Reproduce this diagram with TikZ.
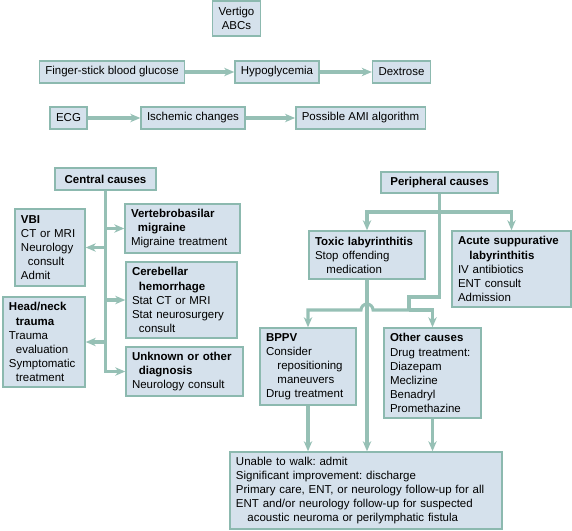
\documentclass[tikz,border=0pt]{standalone}
\usepackage{fontspec}
\setmainfont{Liberation Sans}
\usetikzlibrary{arrows.meta}
\definecolor{boxfill}{RGB}{213,225,236}
\definecolor{boxline}{RGB}{140,185,175}
\definecolor{flow}{RGB}{150,192,181}
\frenchspacing

\begin{document}
\begin{tikzpicture}[
  x=0.03cm, y=-0.03cm,
  font=\fontsize{9.8}{12}\selectfont,
  box/.style={draw=boxline, fill=boxfill, line width=1.2pt, inner xsep=0.18cm, align=left},
  single/.style={box, align=center, minimum height=0.66cm},
  line/.style={draw=flow, line width=2.6pt},
  arrow/.style={line, -{Stealth[length=0.3cm, width=0.25cm, inset=0.09cm]}}
]
\useasboundingbox (0,0) rectangle (572,530);

% first checks
\node[single, minimum width=1.41cm, minimum height=1.05cm] (vertigo) at (236.5,18.5) {Vertigo\\ABCs};
\node[single, minimum width=4.2cm] (glucose) at (112,72) {Finger-stick blood glucose};
\node[single, minimum width=2.46cm] (hypo) at (277,72) {Hypoglycemia};
\node[single, minimum width=1.71cm] (dextrose) at (401.5,72) {Dextrose};
\node[single, minimum width=1.05cm] (ecg) at (68.5,118) {ECG};
\node[single, minimum width=3.0cm] (ischemic) at (193,118) {Ischemic changes};
\node[single, minimum width=3.75cm] (ami) at (360.5,118) {Possible AMI algorithm};

% central side
\node[single, minimum width=3.03cm] (central) at (105.5,179) {\textbf{Central causes}};
\node[box, text width=1.74cm, minimum height=2.31cm] (vbi) at (50,247.5)
  {\textbf{VBI}\\CT or MRI\\Neurology\\\hspace*{0.6em}consult\\Admit};
\node[box, text width=3.09cm, minimum height=1.47cm] (migraine) at (182.5,228.5)
  {\textbf{Vertebrobasilar}\\\hspace*{0.6em}\textbf{migraine}\\Migraine treatment};
\node[box, text width=2.97cm, minimum height=2.28cm] (hemorrhage) at (181.5,300)
  {\textbf{Cerebellar}\\\hspace*{0.6em}\textbf{hemorrhage}\\Stat CT or MRI\\Stat neurosurgery\\\hspace*{0.6em}consult};
\node[box, text width=2.10cm, minimum height=2.7cm] (trauma) at (44,342)
  {\textbf{Head/neck}\\\hspace*{0.6em}\textbf{trauma}\\Trauma\\\hspace*{0.6em}evaluation\\Symptomatic\\\hspace*{0.6em}treatment};
\node[box, text width=3.15cm, minimum height=1.47cm] (unknown) at (184.5,371.5)
  {\textbf{Unknown or other}\\\hspace*{0.6em}\textbf{diagnosis}\\Neurology consult};

% peripheral side
\node[single, minimum width=3.51cm, minimum height=0.63cm] (peripheral) at (439.5,182.5) {\textbf{Peripheral causes}};
\node[box, text width=3.12cm, minimum height=1.44cm] (toxic) at (367,255)
  {\textbf{Toxic labyrinthitis}\\Stop offending\\\hspace*{1em}medication};
\node[box, text width=3.21cm, minimum height=2.28cm] (acute) at (511.5,269)
  {\textbf{Acute suppurative}\\\hspace*{1em}\textbf{labyrinthitis}\\IV antibiotics\\ENT consult\\Admission};
\node[box, text width=2.52cm, minimum height=2.31cm] (bppv) at (308,366.5)
  {\textbf{BPPV}\\Consider\\\hspace*{1em}repositioning\\\hspace*{1em}maneuvers\\Drug treatment};
\node[box, text width=2.55cm, minimum height=2.7cm] (other) at (432.5,373)
  {\textbf{Other causes}\\Drug treatment:\\Diazepam\\Meclizine\\Benadryl\\Promethazine};
\node[box, text width=7.8cm, minimum height=2.31cm] (outcome) at (366,490.5)
  {Unable to walk: admit\\Significant improvement: discharge\\Primary care, ENT, or neurology follow-up for all\\ENT and/or neurology follow-up for suspected\\\hspace*{1em}acoustic neuroma or perilymphatic fistula};

\coordinate (upper) at (439.5,212);
\coordinate (bend) at (409,297);
\coordinate (lower) at (409,310);

\draw[arrow] (glucose) -- (hypo);
\draw[arrow] (hypo) -- (dextrose);
\draw[arrow] (ecg) -- (ischemic);
\draw[arrow] (ischemic) -- (ami);

\draw[arrow] (central.south) |- (unknown.west);
\draw[arrow] (central.south |- migraine.west) -- (migraine.west);
\draw[arrow] (central.south |- vbi.east) -- (vbi.east);
\draw[arrow] (central.south |- hemorrhage.west) -- (hemorrhage.west);
\draw[arrow] (central.south |- trauma.east) -- (trauma.east);

\draw[line] (peripheral.south) |- (bend) -- (lower);
\draw[arrow] (upper) -| (toxic.north);
\draw[arrow] (upper) -| (acute.north);
\draw[arrow] (lower) -| (other.north);
\draw[arrow] (lower) -- ([xshift=0.18cm]toxic.south |- lower)
  arc[start angle=0, end angle=-180, radius=6] -| (bppv.north);
\draw[arrow] (toxic.south) -- (toxic.south |- outcome.north);
\draw[arrow] (bppv.south) -- (bppv.south |- outcome.north);
\draw[arrow] (other.south) -- (other.south |- outcome.north);
\end{tikzpicture}
\end{document}
